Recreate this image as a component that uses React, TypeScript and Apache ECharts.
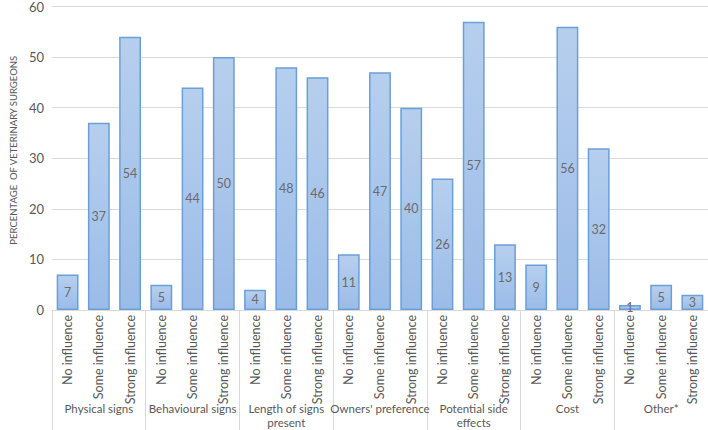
import React, { useEffect, useRef } from "react";
import * as echarts from "echarts";

const groups = [
  "Physical signs",
  "Behavioural signs",
  "Length of signs present",
  "Owners' preference",
  "Potential side effects",
  "Cost",
  "Other*",
];
const levels = ["No influence", "Some influence", "Strong influence"];
const physical = [7, 37, 54];
const behavioural = [5, 44, 50];
const lengthSigns = [4, 48, 46];
const owners = [11, 47, 40];
const sideEffects = [26, 57, 13];
const cost = [9, 56, 32];
const other = [1, 5, 3];
const yTicks = { min: 0, max: 60, interval: 10 };
const yAxisTitle = "PERCENTAGE  OF VETERINARY SURGEONS";

function wrapGroup(s: string): string {
  if (s.length <= 20) return s;
  const cut = s.lastIndexOf(" ", 16);
  return cut > 0 ? s.slice(0, cut) + "\n" + s.slice(cut + 1) : s;
}

export default function App() {
  const ref = useRef<HTMLDivElement>(null);
  useEffect(() => {
    if (!ref.current) return;
    const chart = echarts.init(ref.current, null, { renderer: "svg" });
    const all = [physical, behavioural, lengthSigns, owners, sideEffects, cost, other];
    const cats: string[] = [];
    const vals: number[] = [];
    all.forEach((g) => {
      g.forEach((v, i) => {
        cats.push(levels[i]);
        vals.push(v);
      });
    });
    const font = "Lato, 'Open Sans', sans-serif";
    chart.setOption({
      animation: false,
      textStyle: { fontFamily: font },
      grid: { left: 37, right: 0, top: 3, bottom: 120, containLabel: false },
      xAxis: [
        {
          type: "category",
          data: cats,
          position: "bottom",
          axisLine: { show: true, lineStyle: { color: "#d9d9d9" } },
          axisTick: { show: false },
          axisLabel: {
            interval: 0,
            rotate: 90,
            color: "#595959",
            fontSize: 12.5,
            margin: 5,
            fontFamily: font,
          },
        },
        {
          type: "category",
          data: groups,
          position: "bottom",
          axisLine: { show: false },
          axisTick: { show: true, length: 120, lineStyle: { color: "#d9d9d9" }, interval: 0 },
          axisLabel: {
            interval: 0,
            color: "#595959",
            fontSize: 11.5,
            margin: 91,
            lineHeight: 14,
            verticalAlign: "top",
            fontFamily: font,
            formatter: (v: string) => wrapGroup(v),
          },
        },
      ],
      yAxis: {
        type: "value",
        min: yTicks.min,
        max: yTicks.max,
        interval: yTicks.interval,
        name: yAxisTitle,
        nameLocation: "middle",
        nameGap: 30,
        nameTextStyle: { color: "#595959", fontSize: 9.5, fontFamily: font, padding: [0, 0, 0, 16] },
        axisLine: { show: false },
        axisTick: { show: false },
        axisLabel: { color: "#595959", fontSize: 13, margin: 8, fontFamily: font },
        splitLine: { lineStyle: { color: "#d9d9d9", width: 1 } },
      },
      series: [
        {
          type: "bar",
          xAxisIndex: 0,
          data: vals,
          barWidth: "70%",
          itemStyle: {
            color: new echarts.graphic.LinearGradient(0, 0, 0, 1, [
              { offset: 0, color: "#b7cfee" },
              { offset: 1, color: "#9bbce8" },
            ]),
            borderColor: "#6a9fd8",
            borderWidth: 1.5,
          },
          label: {
            show: true,
            position: "inside",
            color: "#6b6b6b",
            fontSize: 12.5,
            fontFamily: font,
          },
        },
      ],
    });
    return () => chart.dispose();
  }, []);
  return <div ref={ref} style={{ width: 708, height: 430, position: "absolute", left: 0, top: 0 }} />;
}
